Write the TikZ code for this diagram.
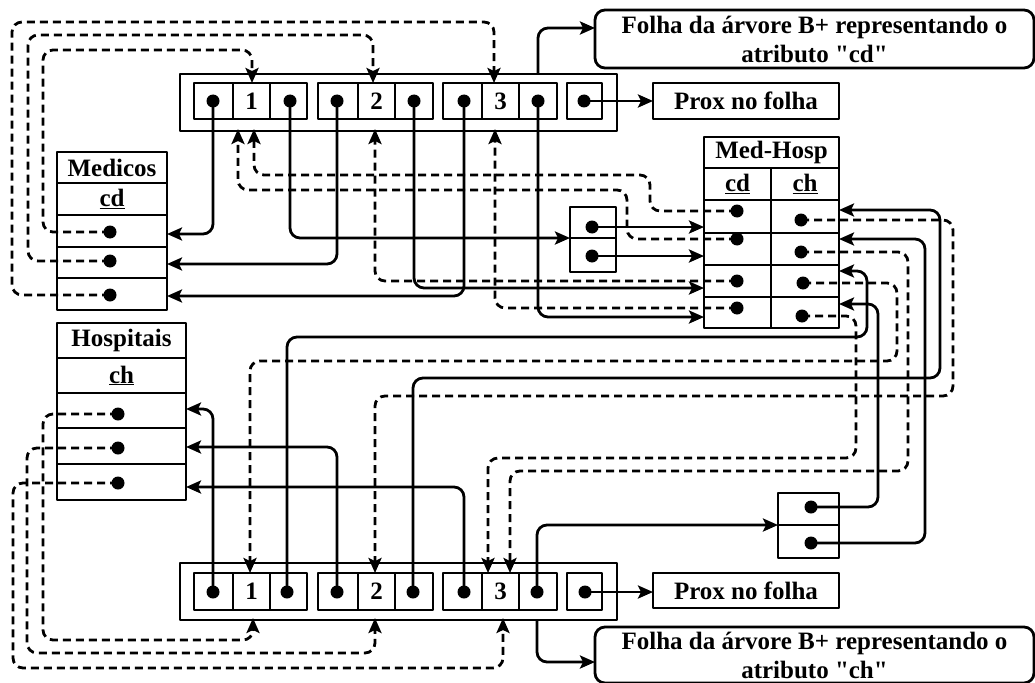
\documentclass[tikz,border=0pt]{standalone}
\usepackage{fontspec}
\setmainfont{Liberation Serif}[Ligatures=TeXOff]
\usetikzlibrary{arrows.meta}
\begin{document}
\begin{tikzpicture}[x=1pt,y=-1pt,line width=2.8pt,line join=round,
  every node/.style={font=\fontsize{25}{29}\selectfont\bfseries,inner sep=0pt,outer sep=0pt},
  cellbox/.style={draw,rectangle,minimum height=#1},
  link/.style={rounded corners=10pt,-{Stealth[length=15pt,width=13pt,inset=3pt]}},
  dlink/.style={link,dash pattern=on 8pt off 5pt},
  dotfill/.style={fill=black}]
\useasboundingbox (0,0) rectangle (1035,682);

% ---------- top leaf (cd) ----------
\node[draw,minimum width=437pt,minimum height=57pt] (tleaf) at (398.5,102.5) {};
\node[cellbox=36pt,minimum width=39pt] (tc11) at (213.5,101) {};
\node[cellbox=36pt,minimum width=37pt] (tc12) at (251.5,101) {1};
\node[cellbox=36pt,minimum width=37pt] (tc13) at (288.5,101) {};
\node[cellbox=36pt,minimum width=40pt] (tc21) at (338,101) {};
\node[cellbox=36pt,minimum width=37pt] (tc22) at (376.5,101) {2};
\node[cellbox=36pt,minimum width=38pt] (tc23) at (414,101) {};
\node[cellbox=36pt,minimum width=39pt] (tc31) at (462.5,101) {};
\node[cellbox=36pt,minimum width=37pt] (tc32) at (500.5,101) {3};
\node[cellbox=36pt,minimum width=38pt] (tc33) at (538,101) {};
\node[cellbox=36pt,minimum width=35pt] (tcp) at (584.5,101) {};
\node[draw,minimum width=186pt,minimum height=36pt] (tprox) at (746,101) {Prox no folha};
\node[draw,rounded corners=10pt,minimum width=439pt,minimum height=58pt,align=center] (tfolha) at (814.5,39) {Folha da árvore B+ representando o\\atributo "cd"};

% ---------- bottom leaf (ch) ----------
\node[draw,minimum width=437pt,minimum height=57pt] (bleaf) at (398.5,591.5) {};
\node[cellbox=37pt,minimum width=39pt] (bc11) at (213.5,591.5) {};
\node[cellbox=37pt,minimum width=37pt] (bc12) at (251.5,591.5) {1};
\node[cellbox=37pt,minimum width=37pt] (bc13) at (288.5,591.5) {};
\node[cellbox=37pt,minimum width=40pt] (bc21) at (338,591.5) {};
\node[cellbox=37pt,minimum width=37pt] (bc22) at (376.5,591.5) {2};
\node[cellbox=37pt,minimum width=38pt] (bc23) at (414,591.5) {};
\node[cellbox=37pt,minimum width=39pt] (bc31) at (462.5,591.5) {};
\node[cellbox=37pt,minimum width=37pt] (bc32) at (500.5,591.5) {3};
\node[cellbox=37pt,minimum width=38pt] (bc33) at (538,591.5) {};
\node[cellbox=37pt,minimum width=35pt] (bcp) at (584.5,591.5) {};
\node[draw,minimum width=186pt,minimum height=35pt] (bprox) at (746,590.5) {Prox no folha};
\node[draw,rounded corners=10pt,minimum width=439pt,minimum height=56pt,align=center] (bfolha) at (814.5,655) {Folha da árvore B+ representando o\\atributo "ch"};

% ---------- Medicos ----------
\node[cellbox=31pt,minimum width=110pt] (medH) at (112,167.5) {Medicos};
\node[cellbox=32pt,minimum width=110pt] (medK) at (112,199) {\underline{cd}};
\node[cellbox=32pt,minimum width=110pt] (medR1) at (112,231) {};
\node[cellbox=31pt,minimum width=110pt] (medR2) at (112,262.5) {};
\node[cellbox=32pt,minimum width=110pt] (medR3) at (112,294) {};

% ---------- Hospitais ----------
\node[cellbox=35pt,minimum width=129pt] (hosH) at (121.5,340.5) {Hospitais};
\node[cellbox=35pt,minimum width=129pt] (hosK) at (121.5,375.5) {\underline{ch}};
\node[cellbox=35pt,minimum width=129pt] (hosR1) at (121.5,410.5) {};
\node[cellbox=36pt,minimum width=129pt] (hosR2) at (121.5,446) {};
\node[cellbox=36pt,minimum width=129pt] (hosR3) at (121.5,482) {};

% ---------- Med-Hosp ----------
\node[cellbox=31pt,minimum width=135pt] (mhH) at (771.5,152.5) {Med-Hosp};
\node[cellbox=32pt,minimum width=67pt] (mhKd) at (737.5,184) {\underline{cd}};
\node[cellbox=32pt,minimum width=68pt] (mhKh) at (805,184) {\underline{ch}};
\node[cellbox=33pt,minimum width=67pt] (mhd1) at (737.5,216.5) {};
\node[cellbox=32pt,minimum width=67pt] (mhd2) at (737.5,249) {};
\node[cellbox=32pt,minimum width=67pt] (mhd3) at (737.5,281) {};
\node[cellbox=31pt,minimum width=67pt] (mhd4) at (737.5,312.5) {};
\node[cellbox=33pt,minimum width=68pt] (mhh1) at (805,216.5) {};
\node[cellbox=32pt,minimum width=68pt] (mhh2) at (805,249) {};
\node[cellbox=32pt,minimum width=68pt] (mhh3) at (805,281) {};
\node[cellbox=31pt,minimum width=68pt] (mhh4) at (805,312.5) {};

% ---------- small buckets ----------
\node[cellbox=31pt,minimum width=46pt] (sa1) at (593,222.5) {};
\node[cellbox=34pt,minimum width=46pt] (sa2) at (593,255) {};
\node[cellbox=32pt,minimum width=61pt] (sb1) at (808.5,509) {};
\node[cellbox=33pt,minimum width=61pt] (sb2) at (808.5,541.5) {};

% ---------- dot coordinates ----------
\coordinate (t11) at (213,101); \coordinate (t13) at (290,101);
\coordinate (t21) at (337,101); \coordinate (t23) at (414,101);
\coordinate (t31) at (464,101); \coordinate (t33) at (538,101);
\coordinate (tp) at (584,101);
\coordinate (b11) at (213,592); \coordinate (b13) at (287,592);
\coordinate (b21) at (337,592); \coordinate (b23) at (413,592);
\coordinate (b31) at (464,592); \coordinate (b33) at (537,592);
\coordinate (bp) at (585,592);
\coordinate (md1) at (110,232); \coordinate (md2) at (110,261); \coordinate (md3) at (110,295);
\coordinate (cd1) at (737,211); \coordinate (cd2) at (737,239);
\coordinate (cd3) at (737,281); \coordinate (cd4) at (737,308);
\coordinate (ch1) at (801,220); \coordinate (ch2) at (801,252);
\coordinate (ch3) at (803,283); \coordinate (ch4) at (802,316);
\coordinate (s11) at (592,227); \coordinate (s12) at (592,256);
\coordinate (s21) at (811,507); \coordinate (s22) at (811,543);
\coordinate (h1) at (118,414); \coordinate (h2) at (118,448); \coordinate (h3) at (118,483);

% ---------- arrow end coordinates ----------
\coordinate (aM1) at (167,234); \coordinate (aM2) at (167,264); \coordinate (aM3) at (167,296);
\coordinate (aS1) at (570,238); \coordinate (aS2) at (778,525);
\coordinate (aMH1) at (704,227); \coordinate (aMH2) at (704,256);
\coordinate (aMH3) at (704,288); \coordinate (aMH4) at (704,317);
\coordinate (aCH1) at (839,210); \coordinate (aCH2) at (839,239);
\coordinate (aCH3) at (839,271); \coordinate (aCH4) at (839,304);
\coordinate (aH1) at (186,409); \coordinate (aH2) at (186,447); \coordinate (aH3) at (186,487);
\coordinate (aTF) at (595,28); \coordinate (aBF) at (595,662);
\coordinate (tin1) at (252,83); \coordinate (tin2) at (373,83); \coordinate (tin3) at (494,83);
\coordinate (tup1a) at (238,129); \coordinate (tup1b) at (254,129);
\coordinate (tup2) at (375,129); \coordinate (tup3) at (495,129);
\coordinate (bin1) at (250,573); \coordinate (bin2) at (375,573);
\coordinate (bin3a) at (488,573); \coordinate (bin3b) at (510,573);
\coordinate (bup1) at (253,618); \coordinate (bup2) at (375,618); \coordinate (bup3) at (503,618);

% ---------- solid connectors ----------
\draw[link] (t11) |- (aM1);
\draw[link] (t21) |- (aM2);
\draw[link] (t31) |- (aM3);
\draw[link] (t13) |- (aS1);
\draw[link] (t23) |- (aMH3);
\draw[link] (t33) |- (aMH4);
\draw[link] (s11) -- (aMH1);
\draw[link] (s12) -- (aMH2);
\draw[link] (tleaf.north -| t33) |- (aTF);
\draw[link] (tp) -- (tprox.west |- tp);

\draw[link] (b11) |- (aH1);
\draw[link] (b21) |- (aH2);
\draw[link] (b31) |- (aH3);
\draw[link] (b13) |- (867,337) |- (aCH3);
\draw[link] (b23) |- (940,378) |- (aCH1);
\draw[link] (b33) |- (aS2);
\draw[link] (s21) -| (878,304) -- (aCH4);
\draw[link] (s22) -| (925,239) -- (aCH2);
\draw[link] (bleaf.south -| b33) |- (aBF);
\draw[link] (bp) -- (bprox.west |- bp);

% ---------- dashed connectors ----------
\draw[dlink] (md1) -| (43,50) -| (tin1);
\draw[dlink] (md2) -| (28,35) -| (tin2);
\draw[dlink] (md3) -| (12,22) -| (tin3);
\draw[dlink] (cd1) -| (650,175) -| (tup1b);
\draw[dlink] (cd2) -| (627,190) -| (tup1a);
\draw[dlink] (cd3) -| (tup2);
\draw[dlink] (cd4) -| (tup3);
\draw[dlink] (ch1) -| (953,396) -| (bin2);
\draw[dlink] (ch2) -| (908,471) -| (bin3b);
\draw[dlink] (ch3) -| (897,361) -| (bin1);
\draw[dlink] (ch4) -| (856,458) -| (bin3a);
\draw[dlink] (h1) -| (43,640) -| (bup1);
\draw[dlink] (h2) -| (27,653) -| (bup2);
\draw[dlink] (h3) -| (13,668) -| (bup3);

% ---------- dots ----------
\foreach \d in {t11,t13,t21,t23,t31,t33,tp,b11,b13,b21,b23,b31,b33,bp,
  md1,md2,md3,cd1,cd2,cd3,cd4,ch1,ch2,ch3,ch4,s11,s12,s21,s22,h1,h2,h3}
  \fill[dotfill] (\d) circle (6.5pt);
\end{tikzpicture}
\end{document}
